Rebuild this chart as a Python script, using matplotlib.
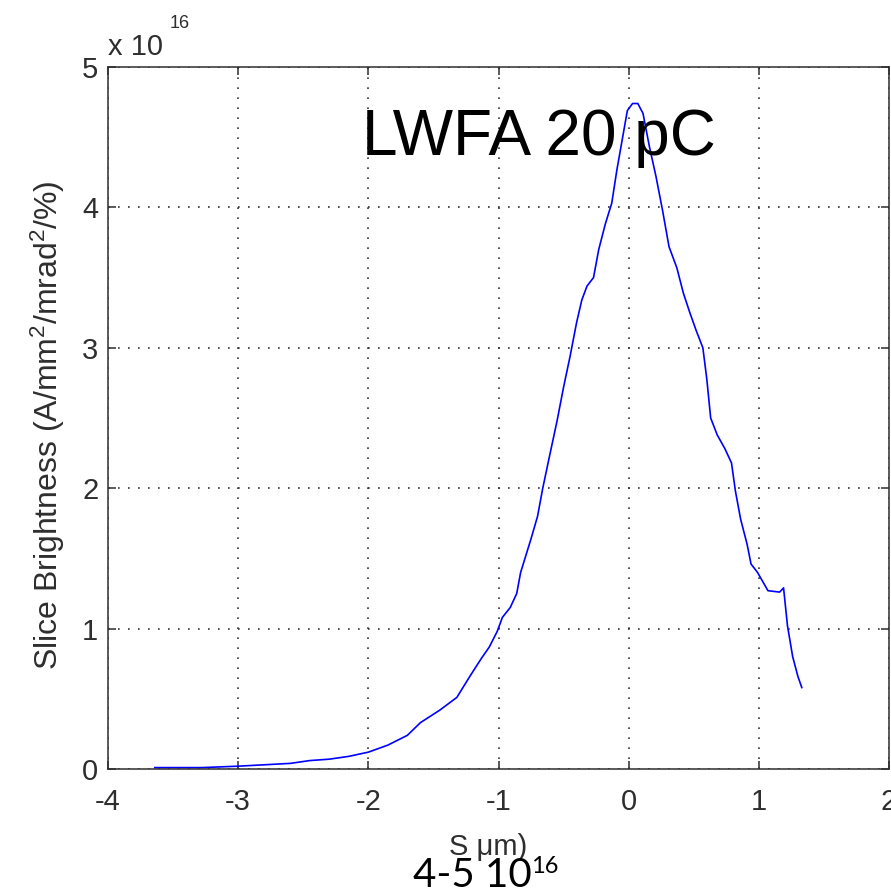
import matplotlib
matplotlib.use('Agg')
import matplotlib.pyplot as plt

# slice position (um) and slice brightness (x 1e16 A/mm^2/mrad^2/%)
s_um = [-3.64, -3.28, -3.00, -2.80, -2.60, -2.45, -2.30, -2.15, -2.00, -1.85,
        -1.70, -1.60, -1.45, -1.32, -1.22, -1.13, -1.07, -1.01, -0.97, -0.91,
        -0.86, -0.83, -0.80, -0.75, -0.70, -0.66, -0.61, -0.55, -0.50, -0.45,
        -0.40, -0.36, -0.32, -0.27, -0.23, -0.18, -0.13, -0.09, -0.05, -0.01,
        0.03, 0.07, 0.11, 0.16, 0.21, 0.26, 0.31, 0.37, 0.42, 0.47,
        0.52, 0.57, 0.60, 0.63, 0.68, 0.74, 0.79, 0.82, 0.86, 0.91,
        0.94, 0.99, 1.07, 1.16, 1.19, 1.22, 1.26, 1.30, 1.33]
brightness = [0.01, 0.01, 0.02, 0.03, 0.04, 0.06, 0.07, 0.09, 0.12, 0.17,
              0.24, 0.33, 0.42, 0.51, 0.66, 0.79, 0.87, 0.98, 1.08, 1.15,
              1.25, 1.40, 1.49, 1.64, 1.80, 2.00, 2.22, 2.48, 2.72, 2.94,
              3.18, 3.34, 3.44, 3.50, 3.70, 3.88, 4.03, 4.27, 4.48, 4.69,
              4.74, 4.74, 4.67, 4.43, 4.22, 3.98, 3.72, 3.57, 3.39, 3.25,
              3.12, 3.00, 2.78, 2.50, 2.38, 2.28, 2.18, 1.98, 1.78, 1.60,
              1.46, 1.40, 1.27, 1.26, 1.29, 1.02, 0.80, 0.66, 0.58]

xticks = [-4, -3, -2, -1, 0, 1, 2]
yticks = [0, 1, 2, 3, 4, 5]

plt.rcParams['font.family'] = 'Liberation Sans'
plt.rcParams['mathtext.fontset'] = 'custom'
plt.rcParams['mathtext.rm'] = 'Liberation Sans'
plt.rcParams['mathtext.it'] = 'Liberation Sans'
dark = '#2e2e2e'

fig = plt.figure(figsize=(8.91, 8.94), dpi=100)
ax = fig.add_axes([108/891, 1 - 769/894, 781/891, 702/894])

ax.plot(s_um, brightness, color='#0000ff', linewidth=1.2)

ax.set_xlim(-4, 2)
ax.set_ylim(0, 5)
ax.set_xticks(xticks)
ax.set_yticks(yticks)
ax.set_xticklabels([str(t) for t in xticks])
ax.set_yticklabels([str(t) for t in yticks])
ax.grid(True, color='#333333', linestyle=(0, (1, 5)), linewidth=1.2)

ax.tick_params(direction='in', length=6, width=1.1, top=True, right=True,
               labelsize=21, colors=dark)
ax.tick_params(axis='x', pad=14)
ax.tick_params(axis='y', pad=7)
for sp in ax.spines.values():
    sp.set_linewidth(1.1)
    sp.set_color(dark)

ax.set_ylabel('Slice Brightness (A/mm$^2$/mrad$^2$/%)', fontsize=23, color=dark)
ax.yaxis.set_label_coords(-0.052, 0.49)

# exponent label at top-left
ax.text(0.0, 1.017, 'x 10', transform=ax.transAxes, fontsize=21, color=dark,
        ha='left', va='baseline')
ax.text(0.079, 1.056, '16', transform=ax.transAxes, fontsize=13, color=dark,
        ha='left', va='baseline')

ax.text(0.325, 0.8746, 'LWFA 20 pC', transform=ax.transAxes, fontsize=46,
        color='black', ha='left', va='baseline')

fig.text(488/891, 1 - 833/894, 'S μm)', fontsize=21, color=dark,
         ha='center', va='top')
fig.text(413/891, 1 - 887/894, '4-5 10', fontsize=29, color='black',
         family='Lato', ha='left', va='baseline')
fig.text(531/891, 1 - 873/894, '16', fontsize=17, color='black',
         family='Lato', ha='left', va='baseline')

fig.savefig('out.png', dpi=100)
